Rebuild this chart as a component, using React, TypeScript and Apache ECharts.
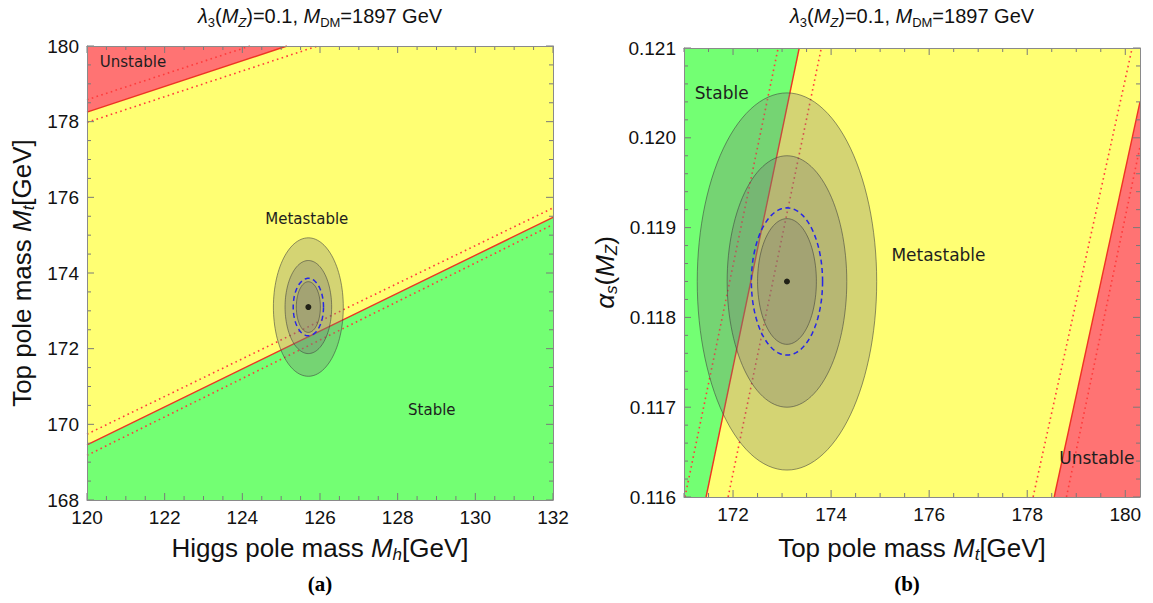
import React, { useEffect, useRef } from "react";
import * as echarts from "echarts";

// ---------------- Panel (a): Higgs pole mass vs top pole mass ----------------
const mhRange = [120, 132];
const mtRangeA = [168, 180];
const mhTicksInterval = 2;
const mtTicksIntervalA = 2;
// boundary lines [Mh, Mt]
const unstableSolidA = [[120, 178.25], [125.15, 180]];
const unstableDotUpperA = [[120, 178.58], [124.2, 180]];
const unstableDotLowerA = [[120, 177.98], [125.94, 180]];
const stableSolidA = [[120, 169.46], [132, 175.47]];
const stableDotUpperA = [[120, 169.74], [132, 175.72]];
const stableDotLowerA = [[120, 169.18], [132, 175.28]];
// confidence ellipses [cx, cy, rx, ry]
const ellipsesA = [
  [125.7, 173.1, 0.9, 1.83],
  [125.7, 173.1, 0.6, 1.23],
  [125.7, 173.1, 0.31, 0.67],
];
const dashedEllipseA = [[125.7, 173.1, 0.39, 0.76]];
const centralA = [[125.7, 173.1]];
const regionLabelsA = ["Unstable", "Metastable", "Stable"];
const regionLabelPosA = [[120.33, 179.58], [125.66, 175.42], [128.88, 170.38]];
const regionLabelAlignA = ["left", "center", "center"];

// ---------------- Panel (b): top pole mass vs alpha_s ----------------
const mtRangeB = [171, 180.3];
const asRange = [0.116, 0.121];
const asInterval = 0.001;
const stableSolidB = [[171.45, 0.116], [173.35, 0.121]];
const stableDotLeftB = [[171.02, 0.116], [172.92, 0.121]];
const stableDotRightB = [[171.9, 0.116], [173.8, 0.121]];
const unstableSolidB = [[178.55, 0.116], [180.3, 0.1204]];
const unstableDotLeftB = [[178.12, 0.116], [180.14, 0.121]];
const unstableDotRightB = [[178.8, 0.116], [180.3, 0.1199]];
const ellipsesB = [
  [173.1, 0.1184, 1.83, 0.0021],
  [173.1, 0.1184, 1.22, 0.0014],
  [173.1, 0.1184, 0.6, 0.0007],
];
const dashedEllipseB = [[173.1, 0.1184, 0.726, 0.00082]];
const centralB = [[173.1, 0.1184]];
const regionLabelsB = ["Stable", "Metastable", "Unstable"];
const regionLabelPosB = [[171.22, 0.1205], [176.19, 0.1187], [179.42, 0.11643]];
const regionLabelAlignB = ["left", "center", "center"];

// frame tick positions (major / minor) for both panels
const mhMajor = [120, 122, 124, 126, 128, 130, 132];
const mtMajorA = [168, 170, 172, 174, 176, 178, 180];
const mtMajorB = [172, 174, 176, 178, 180];
const asMajor = [0.116, 0.117, 0.118, 0.119, 0.12, 0.121];

// ---------------- styling ----------------
const RED = "#ff7373";
const YELLOW = "#ffff73";
const GREEN = "#73ff73";
const LINE_RED = "#ee3322";
const DOT_RED = "#ff3b3b";
const AXIS_COLOR = "#8a8a8a";
const TICK_COLOR = "#7a7a7a";
const SANS = "Liberation Sans";
const TEXT = "#111";

const regionsA = [
  { color: RED, pts: [[mhRange[0], mtRangeA[1]], unstableSolidA[0], unstableSolidA[1]] },
  {
    color: YELLOW,
    pts: [unstableSolidA[0], unstableSolidA[1], [mhRange[1], mtRangeA[1]], stableSolidA[1], stableSolidA[0]],
  },
  { color: GREEN, pts: [stableSolidA[0], stableSolidA[1], [mhRange[1], mtRangeA[0]], [mhRange[0], mtRangeA[0]]] },
];
const regionsB = [
  { color: GREEN, pts: [[mtRangeB[0], asRange[0]], stableSolidB[0], stableSolidB[1], [mtRangeB[0], asRange[1]]] },
  {
    color: YELLOW,
    pts: [stableSolidB[0], unstableSolidB[0], unstableSolidB[1], [mtRangeB[1], asRange[1]], stableSolidB[1]],
  },
  { color: RED, pts: [unstableSolidB[0], [mtRangeB[1], asRange[0]], unstableSolidB[1]] },
];

// minor tick values: subdivide between consecutive majors, and extend past the ends
function minorValues(major: number[], sub: number, range: number[]) {
  const step = (major[1] - major[0]) / sub;
  const out: number[] = [];
  const start = major[0] - step * sub;
  for (let v = start; v <= range[1] + 1e-12; v += step) {
    const r = Math.round(v / step) * step;
    if (r < range[0] - 1e-12 || r > range[1] + 1e-12) continue;
    if (major.some((m) => Math.abs(m - r) < step / 10)) continue;
    out.push(r);
  }
  return out;
}

// tick items: [x, y, dxPixels, dyPixels]
function frameTicks(xr: number[], yr: number[], xMaj: number[], xMin: number[], yMaj: number[], yMin: number[]) {
  const MAJ = 7, MIN = 4;
  const items: number[][] = [];
  xMaj.forEach((x) => { items.push([x, yr[0], 0, -MAJ]); items.push([x, yr[1], 0, MAJ]); });
  xMin.forEach((x) => { items.push([x, yr[0], 0, -MIN]); items.push([x, yr[1], 0, MIN]); });
  yMaj.forEach((y) => { items.push([xr[0], y, MAJ, 0]); items.push([xr[1], y, -MAJ, 0]); });
  yMin.forEach((y) => { items.push([xr[0], y, MIN, 0]); items.push([xr[1], y, -MIN, 0]); });
  return items;
}

const ticksA = frameTicks(mhRange, mtRangeA, mhMajor, minorValues(mhMajor, 4, mhRange), mtMajorA, minorValues(mtMajorA, 4, mtRangeA));
const ticksB = frameTicks(mtRangeB, asRange, mtMajorB, minorValues(mtMajorB, 4, mtRangeB), asMajor, minorValues(asMajor, 5, asRange));

function tickSeries(data: number[][], xi: number, yi: number) {
  return {
    type: "custom",
    xAxisIndex: xi,
    yAxisIndex: yi,
    z: 8,
    silent: true,
    clip: false,
    data,
    renderItem: (params: any, api: any) => {
      const p = api.coord([api.value(0), api.value(1)]);
      const dx = api.value(2), dy = api.value(3);
      return {
        type: "line",
        shape: { x1: p[0], y1: p[1], x2: p[0] + dx, y2: p[1] + dy },
        style: { stroke: TICK_COLOR, lineWidth: 1 },
      };
    },
  };
}

function regionSeries(regions: any[], xi: number, yi: number) {
  return {
    type: "custom",
    xAxisIndex: xi,
    yAxisIndex: yi,
    z: 1,
    silent: true,
    data: regions.map((r) => r.pts[0]),
    renderItem: (params: any, api: any) => {
      const r = regions[params.dataIndex];
      return {
        type: "polygon",
        shape: { points: r.pts.map((p: number[]) => api.coord(p)) },
        style: { fill: r.color, stroke: "none" },
      };
    },
  };
}

function lineSeries(data: number[][], xi: number, yi: number, dotted: boolean) {
  return {
    type: "line",
    xAxisIndex: xi,
    yAxisIndex: yi,
    z: 2,
    silent: true,
    symbol: "none",
    data,
    lineStyle: dotted
      ? { color: DOT_RED, width: 1.6, type: [1.6, 3.4] }
      : { color: LINE_RED, width: 1.4, type: "solid" },
  };
}

function ellipsePoints(api: any) {
  const cx = api.value(0), cy = api.value(1), rx = api.value(2), ry = api.value(3);
  const pts: number[][] = [];
  for (let k = 0; k <= 120; k++) {
    const t = (k / 120) * Math.PI * 2;
    pts.push(api.coord([cx + rx * Math.cos(t), cy + ry * Math.sin(t)]));
  }
  return pts;
}

function ellipseSeries(data: number[][], xi: number, yi: number) {
  return {
    type: "custom",
    xAxisIndex: xi,
    yAxisIndex: yi,
    z: 3,
    silent: true,
    data,
    renderItem: (params: any, api: any) => ({
      type: "polygon",
      shape: { points: ellipsePoints(api) },
      style: { fill: "rgba(120,120,115,0.32)", stroke: "rgba(60,60,60,0.55)", lineWidth: 1 },
    }),
  };
}

function dashedSeries(data: number[][], xi: number, yi: number) {
  return {
    type: "custom",
    xAxisIndex: xi,
    yAxisIndex: yi,
    z: 4,
    silent: true,
    data,
    renderItem: (params: any, api: any) => ({
      type: "polyline",
      shape: { points: ellipsePoints(api) },
      style: { fill: "none", stroke: "#2626e6", lineWidth: 1.5, lineDash: [5, 3.5] },
    }),
  };
}

function centerSeries(data: number[][], xi: number, yi: number) {
  return {
    type: "scatter",
    xAxisIndex: xi,
    yAxisIndex: yi,
    z: 5,
    silent: true,
    symbol: "circle",
    symbolSize: 6,
    itemStyle: { color: "#000" },
    data,
  };
}

function labelSeries(pos: number[][], texts: string[], aligns: string[], xi: number, yi: number, size: number) {
  return {
    type: "custom",
    xAxisIndex: xi,
    yAxisIndex: yi,
    z: 6,
    silent: true,
    data: pos,
    renderItem: (params: any, api: any) => {
      const p = api.coord([api.value(0), api.value(1)]);
      return {
        type: "text",
        x: p[0],
        y: p[1],
        style: {
          text: texts[params.dataIndex],
          fill: "#1e1e1e",
          font: `${size}px "DejaVu Sans"`,
          align: aligns[params.dataIndex],
          verticalAlign: "middle",
        },
      };
    },
  };
}

const labelStyle = { fontFamily: SANS, fontSize: 19, color: TEXT, margin: 8 };

function frameAxis(opts: any) {
  return {
    type: "value",
    z: 20,
    splitLine: { show: false },
    axisTick: { show: false },
    axisLine: { show: true, onZero: false, lineStyle: { color: AXIS_COLOR, width: 1 } },
    ...opts,
  };
}

const NAME_SIZE = 26;
const nameRich = {
  i: { fontFamily: SANS, fontSize: NAME_SIZE, fontStyle: "italic", color: TEXT, lineHeight: 30 },
  sub: { fontFamily: SANS, fontSize: 17, fontStyle: "italic", color: TEXT, lineHeight: 17, verticalAlign: "bottom" },
  n: { fontFamily: SANS, fontSize: NAME_SIZE, color: TEXT, lineHeight: 30 },
};
const nameStyle = { fontFamily: SANS, fontSize: NAME_SIZE, color: TEXT, lineHeight: 30, rich: nameRich };

const titleRich = {
  i: { fontFamily: SANS, fontSize: 20, fontStyle: "italic", fontWeight: "normal", color: TEXT, lineHeight: 26 },
  n: { fontFamily: SANS, fontSize: 20, fontWeight: "normal", color: TEXT, lineHeight: 26 },
  s: { fontFamily: SANS, fontSize: 13, fontWeight: "normal", color: TEXT, lineHeight: 13, verticalAlign: "bottom" },
  si: { fontFamily: SANS, fontSize: 13, fontStyle: "italic", fontWeight: "normal", color: TEXT, lineHeight: 13, verticalAlign: "bottom" },
};
const titleText = "{i|λ}{s|3}{n|(}{i|M}{si|Z}{n|)=0.1, }{i|M}{s|DM}{n|=1897 GeV}";
const titleStyle = { rich: titleRich, lineHeight: 26, fontWeight: "normal", fontFamily: SANS, fontSize: 20, color: TEXT };

const option: any = {
  animation: false,
  backgroundColor: "#fff",
  title: [
    { text: titleText, left: 320, top: 3, textAlign: "center", padding: 0, textStyle: titleStyle },
    { text: titleText, left: 912, top: 3, textAlign: "center", padding: 0, textStyle: titleStyle },
  ],
  grid: [
    { left: 87, top: 46, width: 466, height: 454 },
    { left: 684, top: 48, width: 456, height: 449 },
  ],
  xAxis: [
    frameAxis({
      gridIndex: 0, position: "bottom", min: mhRange[0], max: mhRange[1], interval: mhTicksInterval,
      axisLabel: { ...labelStyle },
      name: "Higgs pole mass {i|M}{sub|h}{n|[GeV]}", nameLocation: "middle", nameGap: 33, nameTextStyle: nameStyle,
    }),
    frameAxis({
      gridIndex: 0, position: "top", min: mhRange[0], max: mhRange[1], interval: mhTicksInterval,
      axisLabel: { show: false },
    }),
    frameAxis({
      gridIndex: 1, position: "bottom", min: mtRangeB[0], max: mtRangeB[1], splitNumber: 5,
      axisLabel: { ...labelStyle, showMinLabel: false, showMaxLabel: false },
      name: "Top pole mass {i|M}{sub|t}{n|[GeV]}", nameLocation: "middle", nameGap: 36, nameTextStyle: nameStyle,
    }),
    frameAxis({
      gridIndex: 1, position: "top", min: mtRangeB[0], max: mtRangeB[1], splitNumber: 5,
      axisLabel: { show: false },
    }),
  ],
  yAxis: [
    frameAxis({
      gridIndex: 0, position: "left", min: mtRangeA[0], max: mtRangeA[1], interval: mtTicksIntervalA,
      axisLabel: { ...labelStyle },
      name: "Top pole mass {i|M}{sub|t}{n|[GeV]}", nameLocation: "middle", nameRotate: 90, nameGap: 50, nameTextStyle: nameStyle,
    }),
    frameAxis({
      gridIndex: 0, position: "right", min: mtRangeA[0], max: mtRangeA[1], interval: mtTicksIntervalA,
      axisLabel: { show: false },
    }),
    frameAxis({
      gridIndex: 1, position: "left", min: asRange[0], max: asRange[1], interval: asInterval,
      axisLabel: { ...labelStyle, formatter: (v: number) => v.toFixed(3) },
      name: "{i|α}{sub|s}{n|(}{i|M}{sub|Z}{n|)}", nameLocation: "middle", nameRotate: 90, nameGap: 64, nameTextStyle: nameStyle,
    }),
    frameAxis({
      gridIndex: 1, position: "right", min: asRange[0], max: asRange[1], interval: asInterval,
      axisLabel: { show: false },
    }),
  ],
  graphic: [
    { type: "text", x: 320, y: 584, style: { text: "(a)", font: 'bold 21px "Liberation Serif"', fill: "#000", align: "center", verticalAlign: "middle" } },
    { type: "text", x: 907, y: 584, style: { text: "(b)", font: 'bold 21px "Liberation Serif"', fill: "#000", align: "center", verticalAlign: "middle" } },
  ],
  series: [
    // panel (a)
    regionSeries(regionsA, 0, 0),
    lineSeries(unstableSolidA, 0, 0, false),
    lineSeries(unstableDotUpperA, 0, 0, true),
    lineSeries(unstableDotLowerA, 0, 0, true),
    lineSeries(stableSolidA, 0, 0, false),
    lineSeries(stableDotUpperA, 0, 0, true),
    lineSeries(stableDotLowerA, 0, 0, true),
    ellipseSeries(ellipsesA, 0, 0),
    dashedSeries(dashedEllipseA, 0, 0),
    centerSeries(centralA, 0, 0),
    labelSeries(regionLabelPosA, regionLabelsA, regionLabelAlignA, 0, 0, 15),
    tickSeries(ticksA, 0, 0),
    // panel (b)
    regionSeries(regionsB, 2, 2),
    lineSeries(stableSolidB, 2, 2, false),
    lineSeries(stableDotLeftB, 2, 2, true),
    lineSeries(stableDotRightB, 2, 2, true),
    lineSeries(unstableSolidB, 2, 2, false),
    lineSeries(unstableDotLeftB, 2, 2, true),
    lineSeries(unstableDotRightB, 2, 2, true),
    ellipseSeries(ellipsesB, 2, 2),
    dashedSeries(dashedEllipseB, 2, 2),
    centerSeries(centralB, 2, 2),
    labelSeries(regionLabelPosB, regionLabelsB, regionLabelAlignB, 2, 2, 17),
    tickSeries(ticksB, 2, 2),
  ],
};

export default function App() {
  const ref = useRef<HTMLDivElement>(null);
  useEffect(() => {
    const chart = echarts.init(ref.current as HTMLDivElement, null, { renderer: "svg" });
    chart.setOption(option);
    return () => chart.dispose();
  }, []);
  return (
    <div
      ref={ref}
      style={{ position: "absolute", left: 0, top: 0, width: 1153, height: 603, background: "#fff" }}
    />
  );
}
